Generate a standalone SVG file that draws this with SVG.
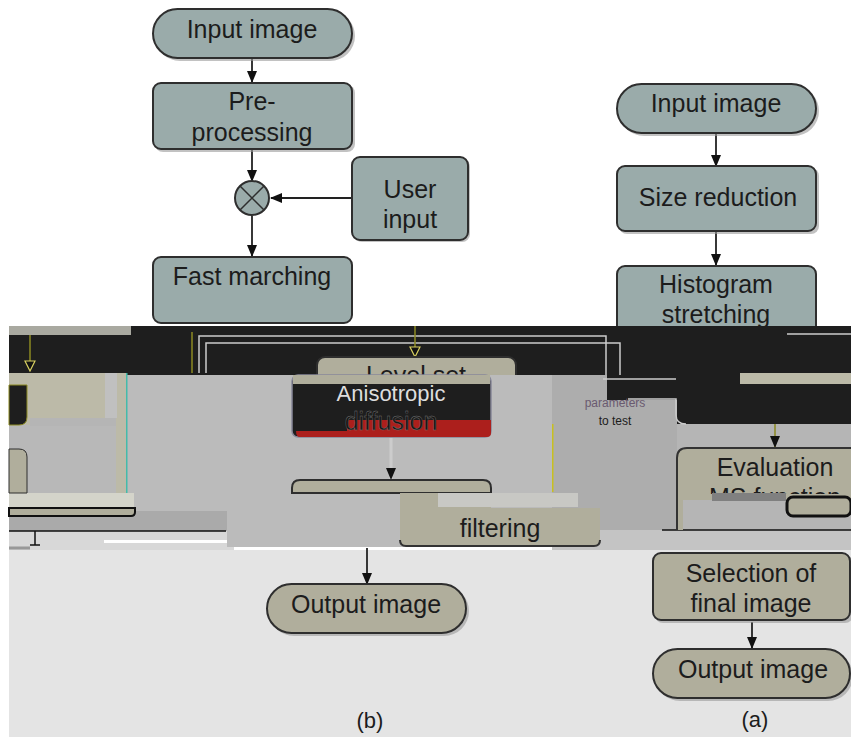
<svg xmlns="http://www.w3.org/2000/svg" width="851" height="740" viewBox="0 0 851 740">
<style>
text{font-family:"Liberation Sans",Arial,sans-serif;fill:#1c1c1c;text-anchor:middle;font-size:25px}
.g{fill:#9aabaa;stroke:#2e2e2e;stroke-width:2}
.b{fill:#b0ae9c;stroke:#2e2e2e;stroke-width:2}
.s{fill:#999;stroke:none;opacity:.6}
.c{fill:none;stroke:#222;stroke-width:1.8}
.l{fill:none;stroke:#ccc;stroke-width:1.5}
.y{fill:none;stroke:#8c8a22;stroke-width:1.5}
</style>
<defs>
<marker id="a" markerWidth="12" markerHeight="10" refX="11" refY="5" orient="auto" markerUnits="userSpaceOnUse"><path d="M0 0L12 5L0 10Z" fill="#111"/></marker>
<marker id="ay" markerWidth="12" markerHeight="12" refX="10" refY="6" orient="auto" markerUnits="userSpaceOnUse"><path d="M1 1L11 6L1 11Z" fill="#111" stroke="#d8d060" stroke-width="1.2"/></marker>
<clipPath id="ctop"><rect x="0" y="0" width="851" height="326"/></clipPath>
<clipPath id="clevel"><rect x="300" y="340" width="240" height="35"/></clipPath>
<clipPath id="ceval"><rect x="670" y="440" width="181" height="54"/></clipPath>
</defs>
<rect width="851" height="740" fill="#fff"/>
<g id="background-bands">
<rect x="9" y="550" width="842" height="187" fill="#e4e4e4"/>
<rect x="9" y="326" width="842" height="98" fill="#1e1e1e"/>
<rect x="127" y="375" width="425" height="172" fill="#bbb"/>
<rect x="552" y="375" width="55" height="172" fill="#adadad"/>
<rect x="607" y="400" width="70" height="147" fill="#adadad"/>
<rect x="677" y="424" width="174" height="106" fill="#b5b5b5"/>
<rect x="9" y="373" width="118" height="120" fill="#bcbaa8"/>
<rect x="9" y="425" width="107" height="68" fill="#b8b8b8"/>
<rect x="30" y="418" width="86" height="8" fill="#b5b5b5"/>
<rect x="105" y="373" width="12" height="45" fill="#c0c0c0"/>
<rect x="126" y="373" width="1.5" height="120" fill="#44bbaa"/>
<rect x="9" y="493" width="125" height="15" fill="#d4d4ca"/>
<rect x="9" y="511" width="218" height="20" fill="#aaa"/>
<rect x="9" y="531" width="225" height="19" fill="#d8d8d8"/>
<rect x="104" y="540" width="135" height="3" fill="#fff"/>
<rect x="227" y="493" width="173" height="54" fill="#bbb"/>
<rect x="552" y="530" width="299" height="20" fill="#c4c4c4"/>
<rect x="552" y="424" width="1.5" height="68" fill="#c8c020"/>
</g>
<g id="left-fragments">
<rect x="9" y="326" width="122" height="9" fill="#a9a9a0"/>
<path d="M9 385H27V417Q27 425 19 425H9Z" fill="#1e1e1e" stroke="#8c8a22"/>
<path d="M9 449H19Q27 449 27 457V493H9Z" fill="#b0ae9c" stroke="#2e2e2e"/>
<path d="M9 508H135V512Q135 516 131 516H9Z" fill="#b0ae9c" stroke="#111" stroke-width="2"/>
<path d="M9 531H226" stroke="#111" stroke-width="1.5"/>
<path d="M9 548H30" stroke="#999" stroke-width="3"/>
</g>
<g id="nested-lines">
<path class="y" d="M192 373V332"/>
<path class="l" d="M199 373V336H606V375"/>
<path class="l" d="M206 373V343H620V375"/>
<path class="l" d="M603 379H676"/>
<path class="l" d="M628 399H676V415Q676 424 686 424"/>
<path class="l" d="M787 334H851"/>
</g>
<g id="connectors">
<path class="c" d="M252 58V82" marker-end="url(#a)"/>
<path class="c" d="M252 150V181" marker-end="url(#a)"/>
<path class="c" d="M351 198H271" marker-end="url(#a)"/>
<path class="c" d="M252 216V256" marker-end="url(#a)"/>
<path class="c" d="M716 134V166" marker-end="url(#a)"/>
<path class="c" d="M716 232V265" marker-end="url(#a)"/>
<path class="y" d="M30 335V370" marker-end="url(#ay)"/>
<path class="y" d="M415 326V356" marker-end="url(#ay)"/>
<path d="M391 438V479" stroke="#ccc" stroke-width="3" marker-end="url(#a)"/>
<path d="M775 424V447" stroke="#8c8a22" stroke-width="1.5" marker-end="url(#a)"/>
<path d="M35 531V545M30 545H40" stroke="#111" stroke-width="1.5"/>
<path class="c" d="M367 548V584" marker-end="url(#a)"/>
<path class="c" d="M752 622V648" marker-end="url(#a)"/>
<path d="M662 530H851" stroke="#111" stroke-width="1.5"/>
</g>
<g id="n-input-1"><rect x="155" y="11" width="200" height="50" rx="25" class="s"/><rect x="153" y="9" width="199" height="49" rx="24.5" class="g"/><text x="252" y="38">Input image</text></g>
<g id="n-pre"><rect x="155" y="85" width="200" height="67" rx="8" class="s"/><rect x="153" y="83" width="199" height="66" rx="8" class="g"/><text x="252" y="110">Pre-</text><text x="252" y="141">processing</text></g>
<g id="n-cross"><circle cx="252" cy="198" r="17" class="g"/><path d="M240 186L264 210M264 186L240 210" stroke="#2e2e2e" stroke-width="1.5"/></g>
<g id="n-user"><rect x="354" y="159" width="116" height="83" rx="8" class="s"/><rect x="352" y="157" width="116" height="83" rx="8" class="g"/><text x="410" y="198">User</text><text x="410" y="228">input</text></g>
<g id="n-fast"><rect x="153" y="257" width="199" height="66" rx="8" class="g"/><text x="252" y="285">Fast marching</text></g>
<g id="n-input-2"><rect x="619" y="86" width="200" height="50" rx="25" class="s"/><rect x="617" y="84" width="199" height="49" rx="24.5" class="g"/><text x="716" y="112">Input image</text></g>
<g id="n-size"><rect x="619" y="168" width="200" height="66" rx="8" class="s"/><rect x="617" y="166" width="199" height="65" rx="8" class="g"/><text x="718" y="206">Size reduction</text></g>
<g id="n-hist" clip-path="url(#ctop)"><rect x="617" y="266" width="199" height="70" rx="8" class="g"/><text x="716" y="293">Histogram</text><text x="716" y="323">stretching</text></g>
<g id="n-level" clip-path="url(#clevel)"><rect x="317" y="357" width="199" height="60" rx="8" class="b"/><text x="416" y="384">Level set</text></g>
<g id="n-aniso">
<rect x="292" y="375" width="199" height="62" rx="6" fill="#1e1e1e" stroke="#889" stroke-width="1.5"/>
<rect x="293" y="375" width="197" height="9" fill="#b0ae9c"/>
<path d="M296 431H347V420H491V433Q491 437 487 437H300Q296 437 296 431Z" fill="#ac1f1c"/>
<text x="391" y="401" style="font-size:22px;fill:#ddd">Anisotropic</text>
<text x="391" y="430" style="fill:#151515;stroke:#777;stroke-width:.4;font-size:25px">diffusion</text>
</g>
<g id="n-linear">
<path d="M292 493V488Q292 480 300 480H483Q491 480 491 488V493Z" class="b"/>
</g>
<g id="n-filter"><path d="M400 493H491V508H600V540Q600 546 594 546H406Q400 546 400 540Z" fill="#b0ae9c"/><path d="M400 540Q400 546 406 546H594Q600 546 600 540" fill="none" stroke="#333" stroke-width="2"/><rect x="438" y="493" width="140" height="14" fill="#c8c8c4"/><text x="500" y="537">filtering</text></g>
<g id="n-param"><text x="615" y="407" style="font-size:12px;fill:#6a5a70">parameters</text><text x="615" y="425" style="font-size:12px">to test</text></g>
<g id="n-top-right-fragment">
<rect x="740" y="373" width="111" height="11" fill="#bcbaa8"/>
</g>
<g id="n-eval">
<path d="M677 530V458Q677 448 687 448H851V500H683V530Z" fill="#b0ae9c"/>
<path d="M677 530V458Q677 448 687 448H851" fill="none" stroke="#333" stroke-width="2"/>
<g clip-path="url(#ceval)"><text x="775" y="476">Evaluation</text><text x="775" y="506">MS function</text></g>
</g>
<g id="eval-fragment">
<rect x="712" y="493" width="74" height="8" fill="#808080"/>
<rect x="787" y="497" width="64" height="19" rx="6" fill="#b0ae9c" stroke="#111" stroke-width="3"/>
</g>
<g id="n-select"><rect x="655" y="555" width="198" height="68" rx="8" class="s"/><rect x="653" y="553" width="197" height="67" rx="8" class="b"/><text x="751" y="582">Selection of</text><text x="751" y="612">final image</text></g>
<g id="n-output-1"><rect x="269" y="586" width="200" height="50" rx="25" class="s"/><rect x="267" y="584" width="199" height="49" rx="24.5" class="b"/><text x="366" y="613">Output image</text></g>
<g id="n-output-2"><rect x="655" y="651" width="198" height="50" rx="25" class="s"/><rect x="653" y="649" width="197" height="49" rx="24.5" class="b"/><text x="753" y="678">Output image</text></g>
<g id="captions"><text x="370" y="728" style="font-size:22px">(b)</text><text x="755" y="727" style="font-size:22px">(a)</text></g>
</svg>
